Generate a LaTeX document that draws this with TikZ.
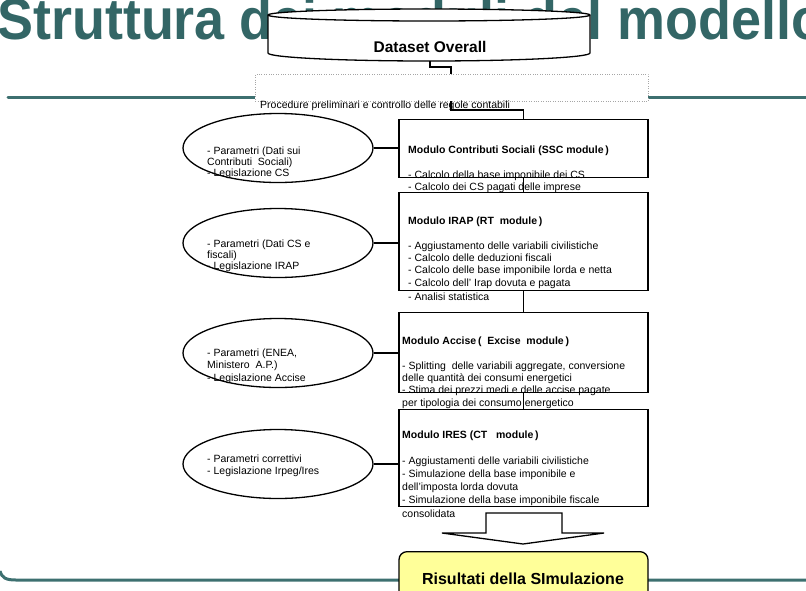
\documentclass[tikz,border=0pt]{standalone}
\usepackage{fontspec}
\setmainfont{Liberation Sans}
\usetikzlibrary{shapes.geometric}
\definecolor{tealline}{RGB}{61,112,112}
\definecolor{tealtext}{RGB}{51,102,102}
\definecolor{yelfill}{RGB}{255,255,153}
\begin{document}
\begin{tikzpicture}[x=1pt,y=-1pt,
  modbox/.style={draw=black, line width=1.3pt, fill=white, minimum width=249pt, anchor=north, inner sep=0pt},
  parell/.style={draw=black, line width=1.3pt, ellipse, minimum width=190pt, minimum height=69pt, inner sep=0pt},
  btxt/.style={anchor=base west, inner sep=0pt, font=\fontsize{10.5}{12}\selectfont},
  ttxt/.style={anchor=base west, inner sep=0pt, font=\fontsize{10.5}{12}\selectfont\bfseries},
  conn/.style={draw=black, line width=1.3pt},
  tealrule/.style={draw=tealline, line width=3pt}
]
\useasboundingbox (0,0) rectangle (806,590);
\clip (0,0) rectangle (806,590);

% title
\node[anchor=base west, inner sep=0pt, text=tealtext, font=\fontsize{58}{62}\selectfont\bfseries] (title) at (-3,39) {\scalebox{0.93}[1]{Struttura dei moduli del modello}};

% teal rules
\draw[tealrule, line cap=round] (8,97) -- (806,97);
\draw[tealrule] (0,571) .. controls (2,578) and (6,580) .. (16,580) -- (806,580);

% cylinder
\draw[line width=1.3pt, fill=white] (268,15) -- (268,53) arc[start angle=180, end angle=0, x radius=161, y radius=8] -- (590,15) arc[start angle=0, end angle=-180, x radius=161, y radius=6] -- cycle;
\draw[line width=1.3pt] (268,15) arc[start angle=180, end angle=0, x radius=161, y radius=6];
\node[inner sep=0pt, font=\fontsize{15.5}{17}\selectfont\bfseries] (ds) at (430,47) {Dataset Overall};
\coordinate (cylb) at (430,61);

% preliminary procedures box
\node[draw=gray!70, dotted, fill=white, minimum width=393pt, minimum height=27pt, anchor=north west, inner sep=0pt] (pre) at (255,74) {};
\node[anchor=base west, inner sep=0pt, font=\fontsize{10.5}{12}\selectfont] (pretxt) at (260,108) {Procedure preliminari e controllo delle regole contabili};
\coordinate (preIn) at (451,74);
\coordinate (preOut) at (451,101);
\coordinate (k1) at (430,67);
\coordinate (k2) at (451,110);

% module boxes
\node[modbox, minimum height=58pt] (m1) at (523.5,119) {};
\node[modbox, minimum height=98pt] (m2) at (523.5,192) {};
\node[modbox, minimum height=80pt] (m3) at (523.5,312) {};
\node[modbox, minimum height=97pt] (m4) at (523.5,409) {};

% connectors
\draw[conn] (cylb) -- (k1) -| (preIn);
\draw[conn] (preOut) -- (k2) -| (m1.north);
\draw[conn] (m1.south) -- (m2.north);
\draw[conn] (m2.south) -- (m3.north);
\draw[conn] (m3.south) -- (m4.north);

% module texts
\node[ttxt] (t1) at (408,153) {Modulo Contributi Sociali (SSC module\,)};
\node[btxt] (t1a) at (408,178) {- Calcolo della base imponibile dei CS};
\node[btxt] (t1b) at (408,190) {- Calcolo dei CS pagati delle imprese};

\node[ttxt] (t2) at (408,224) {Modulo IRAP (RT\ \ module\,)};
\node[btxt] (t2a) at (408,249) {- Aggiustamento delle variabili civilistiche};
\node[btxt] (t2b) at (408,261) {- Calcolo delle deduzioni fiscali};
\node[btxt] (t2c) at (408,273) {- Calcolo delle base imponibile lorda e netta};
\node[btxt] (t2d) at (408,286) {- Calcolo dell’ Irap dovuta e pagata};
\node[btxt] (t2e) at (408,300) {- Analisi statistica};

\node[ttxt] (t3) at (402,344) {Modulo Accise\,(\ \ Excise\ \ module\,)};
\node[btxt] (t3a) at (402,369) {- Splitting\ \ delle variabili aggregate, conversione};
\node[btxt] (t3b) at (402,381) {delle quantità dei consumi energetici};
\node[btxt] (t3c) at (402,393) {- Stima dei prezzi medi e delle accise pagate};
\node[btxt] (t3d) at (402,406) {per tipologia dei consumo energetico};

\node[ttxt] (t4) at (402,438) {Modulo IRES (CT\ \ \ module\,)};
\node[btxt] (t4a) at (402,464) {- Aggiustamenti delle variabili civilistiche};
\node[btxt] (t4b) at (402,477) {- Simulazione della base imponibile e};
\node[btxt] (t4c) at (402,490) {dell’imposta lorda dovuta};
\node[btxt] (t4d) at (402,503) {- Simulazione della base imponibile fiscale};
\node[btxt] (t4e) at (402,517) {consolidata};

% parameter ellipses
\node[parell] (e1) at (278,148) {};
\node[parell] (e2) at (278,243) {};
\node[parell] (e3) at (278,353) {};
\node[parell] (e4) at (278,464) {};
\draw[conn] (e1.east) -- (e1.east -| m1.west);
\draw[conn] (e2.east) -- (e2.east -| m2.west);
\draw[conn] (e3.east) -- (e3.east -| m3.west);
\draw[conn] (e4.east) -- (e4.east -| m4.west);

\node[btxt] (p1a) at (207,154) {- Parametri (Dati sui};
\node[btxt] (p1b) at (207,165) {Contributi\ \ Sociali)};
\node[btxt] (p1c) at (207,176) {- Legislazione CS};

\node[btxt] (p2a) at (207,247) {- Parametri (Dati CS e};
\node[btxt] (p2b) at (207,258) {fiscali)};
\node[btxt] (p2c) at (207,269) {- Legislazione IRAP};

\node[btxt] (p3a) at (207,356) {- Parametri (ENEA,};
\node[btxt] (p3b) at (207,368) {Ministero\ \ A.P.)};
\node[btxt] (p3c) at (207,381) {- Legislazione Accise};

\node[btxt] (p4a) at (207,462) {- Parametri correttivi};
\node[btxt] (p4b) at (207,474) {- Legislazione Irpeg/Ires};

% big block arrow
\draw[line width=1.3pt, fill=white] (486,513) -- (562,513) -- (562,533) -- (604,533) -- (523,544) -- (442,533) -- (486,533) -- cycle;
\coordinate (arrtip) at (523,544);

% results box
\node[draw=black, line width=1.3pt, fill=yelfill, rounded corners=8pt, minimum width=249pt, minimum height=60pt, anchor=north, inner sep=0pt] (res) at (523.5,551) {};
\node[inner sep=0pt, anchor=base, font=\fontsize{16}{18}\selectfont\bfseries] (restxt) at (523,584) {Risultati della SImulazione};
\end{tikzpicture}
\end{document}
